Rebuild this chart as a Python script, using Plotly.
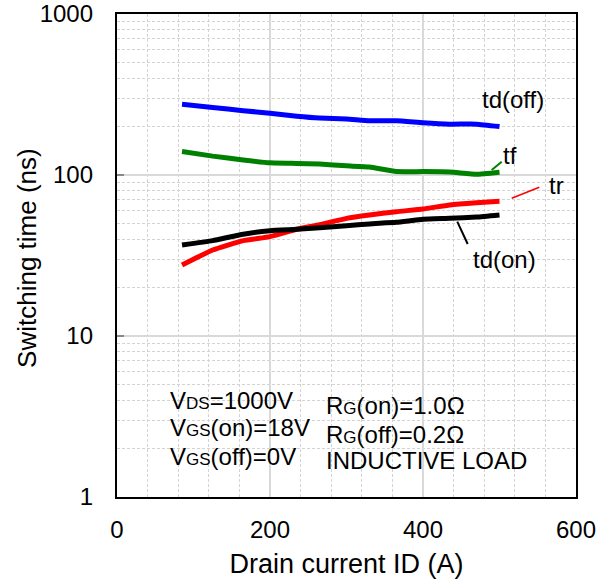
import plotly.graph_objects as go

# ---- data ----
drain_current = [85, 125, 165, 200, 235, 265, 300, 330, 365, 400, 435, 470, 500]
td_off = [275, 263, 251, 242, 232, 226, 223, 217, 217, 211, 207, 207, 200]
t_f = [140, 131, 124, 119, 118, 117, 114, 112, 105, 105, 104.5, 101, 104]
t_r = [27.6, 34.2, 39.1, 41.4, 46.0, 49.1, 53.8, 56.5, 59.2, 61.5, 65.2, 67.3, 68.7]
td_on = [36.7, 39.1, 42.9, 45.1, 46.0, 47.1, 48.4, 49.7, 50.8, 53.1, 53.8, 54.8, 56.5]

y_tick_vals = [1, 10, 100, 1000]
y_tick_text = ["1", "10", "100", "1000"]
x_tick_vals = [0, 200, 400, 600]

FONT = "Liberation Sans, Arial, sans-serif"
GRID = "#D9D9D9"
MINOR = "#D3D3D3"

fig = go.Figure()
series = [
    ("td(off)", td_off, "#0000FF"),
    ("tf", t_f, "#008000"),
    ("tr", t_r, "#FF0000"),
    ("td(on)", td_on, "#000000"),
]
for name, vals, col in series:
    fig.add_trace(go.Scatter(x=drain_current, y=vals, mode="lines", name=name,
                             line=dict(color=col, width=5, shape="spline", smoothing=0.4),
                             showlegend=False))

sub = "<span style='font-size:17px'>{}</span>"
ann = []
left_rows = [("V" + sub.format("DS") + "=1000V", 0.1994),
             ("V" + sub.format("GS") + "(on)=18V", 0.1429),
             ("V" + sub.format("GS") + "(off)=0V", 0.0834)]
right_rows = [("R" + sub.format("G") + "(on)=1.0Ω", 0.189),
              ("R" + sub.format("G") + "(off)=0.2Ω", 0.1304),
              ("INDUCTIVE LOAD", 0.0752)]
for txt, yy in left_rows:
    ann.append(dict(x=67, y=yy, xref="x", yref="paper", text=txt, showarrow=False,
                    xanchor="left", yanchor="middle", font=dict(size=24, color="black", family=FONT)))
for txt, yy in right_rows:
    ann.append(dict(x=270, y=yy, xref="x", yref="paper", text=txt, showarrow=False,
                    xanchor="left", yanchor="middle", font=dict(size=24, color="black", family=FONT)))

labels = [("td(off)", 517.5, 0.824), ("tf", 513.7, 0.708), ("tr", 574.5, 0.644), ("td(on)", 505.9, 0.4907)]
for txt, xx, yy in labels:
    ann.append(dict(x=xx, y=yy, xref="x", yref="paper", text=txt, showarrow=False,
                    xanchor="center", yanchor="middle", font=dict(size=24, color="black", family=FONT)))

# y-axis title
ann.append(dict(x=-0.195, y=0.496, xref="paper", yref="paper", text="Switching time (ns)",
                textangle=-90, showarrow=False, xanchor="center", yanchor="middle",
                font=dict(size=26, color="black", family=FONT)))

shapes = [
    dict(type="rect", xref="x", yref="paper", x0=60, x1=544, y0=0.056, y1=0.232,
         fillcolor="white", line=dict(width=0), layer="between"),
    dict(type="line", xref="x", yref="paper", x0=489.8, x1=502.9, y0=0.677, y1=0.694,
         line=dict(color="#008000", width=2)),
    dict(type="line", xref="x", yref="paper", x0=516, x1=552, y0=0.6184, y1=0.6412,
         line=dict(color="#FF0000", width=1.5)),
    dict(type="line", xref="x", yref="paper", x0=444.8, x1=458.4, y0=0.570, y1=0.5238,
         line=dict(color="#000000", width=2)),
]

fig.update_layout(
    width=611, height=582,
    margin=dict(l=117, r=35, t=14, b=85),
    paper_bgcolor="white", plot_bgcolor="white",
    font=dict(family=FONT, color="black"),
    annotations=ann, shapes=shapes,
    xaxis=dict(range=[0, 600], tickvals=x_tick_vals, tickfont=dict(size=24),
               showgrid=True, gridcolor=GRID, gridwidth=1.5, automargin=False,
               minor=dict(dtick=40, showgrid=True, gridcolor=MINOR, griddash="3px,2px", gridwidth=1),
               showline=True, linecolor="black", linewidth=2.3, mirror=True,
               ticks="", ticklabelstandoff=10, zeroline=False, ticklabeloverflow="allow",
               title=dict(text="Drain current ID (A)", font=dict(size=27), standoff=12)),
    yaxis=dict(type="log", range=[0, 3], tickvals=y_tick_vals, ticktext=y_tick_text,
               tickfont=dict(size=24), automargin=False, ticklabeloverflow="allow",
               showgrid=True, gridcolor=GRID, gridwidth=1.5,
               minor=dict(dtick="D1", showgrid=True, gridcolor=MINOR, griddash="3px,2px", gridwidth=1, ticks=""),
               showline=True, linecolor="black", linewidth=2.3, mirror=True,
               ticks="inside", ticklen=7, tickcolor="#888888", tickwidth=1.5,
               ticklabelstandoff=17, zeroline=False),
)

fig.write_html("out.html", config={"displayModeBar": False},
               post_script="document.body.style.margin='0';document.body.style.overflow='hidden';")
